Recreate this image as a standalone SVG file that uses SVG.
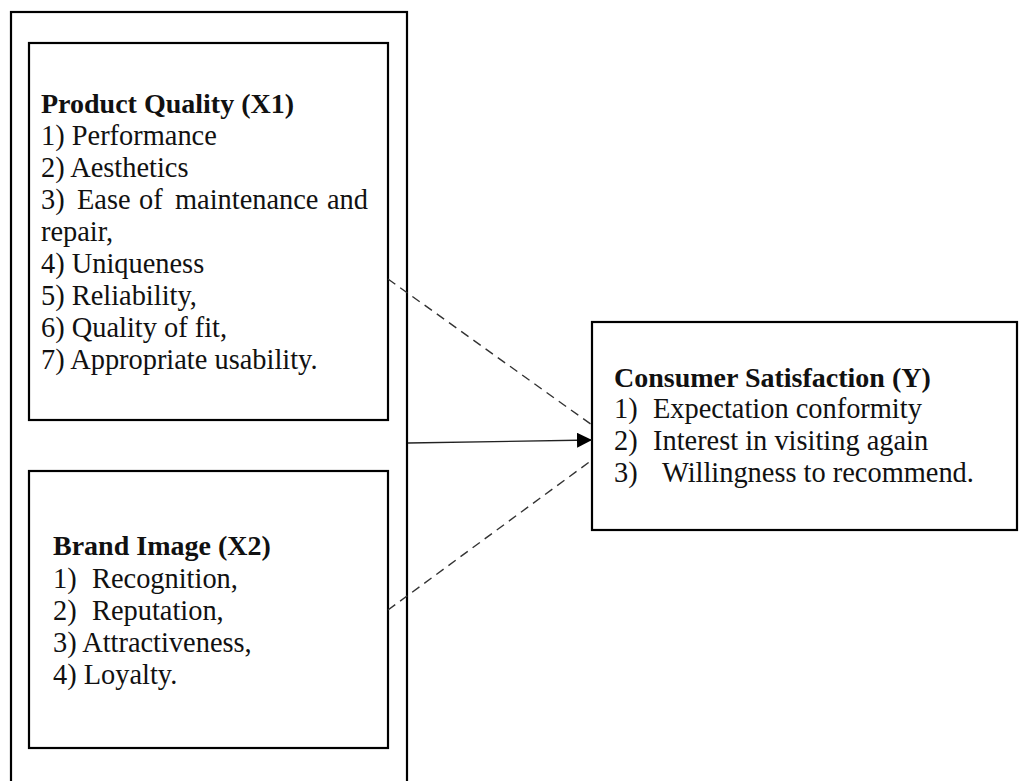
<svg xmlns="http://www.w3.org/2000/svg" width="1019" height="781" viewBox="0 0 1019 781">
<style>
.box{fill:none;stroke:#000;stroke-width:2.2}
.t{font-family:"Liberation Serif","Times New Roman",serif;font-size:28.4px;fill:#111}
.b{font-weight:bold;font-size:28px}
.dash{fill:none;stroke:#333;stroke-width:1.4;stroke-dasharray:9,6}
.solid{fill:none;stroke:#222;stroke-width:1.4}
</style>
<defs>
<marker id="ah" markerUnits="userSpaceOnUse" markerWidth="16" markerHeight="16" refX="15" refY="7.5" orient="auto">
<path d="M0,0 L15,7.5 L0,15 Z" fill="#000"/>
</marker>
</defs>
<rect width="1019" height="781" fill="#fff"/>
<g id="outer"><rect class="box" x="11" y="12" width="396" height="800"/></g>
<g id="product-quality">
<rect class="box" x="29" y="43" width="359" height="377"/>
<text class="t b" x="41" y="113">Product Quality (X1)</text>
<text class="t" x="41" y="145">1) Performance</text>
<text class="t" x="41" y="177">2) Aesthetics</text>
<text class="t" y="209"><tspan x="41">3)</tspan><tspan x="77">Ease</tspan><tspan x="139">of</tspan><tspan x="175">maintenance</tspan><tspan x="327">and</tspan></text>
<text class="t" x="41" y="241">repair,</text>
<text class="t" x="41" y="273">4) Uniqueness</text>
<text class="t" x="41" y="305">5) Reliability,</text>
<text class="t" x="41" y="337">6) Quality of fit,</text>
<text class="t" x="41" y="369">7) Appropriate usability.</text>
</g>
<g id="brand-image">
<rect class="box" x="29" y="471" width="359" height="277"/>
<text class="t b" x="53" y="555">Brand Image (X2)</text>
<text class="t" y="588"><tspan x="53">1)</tspan><tspan x="92">Recognition,</tspan></text>
<text class="t" y="620"><tspan x="53">2)</tspan><tspan x="92">Reputation,</tspan></text>
<text class="t" x="53" y="652">3) Attractiveness,</text>
<text class="t" x="53" y="684">4) Loyalty.</text>
</g>
<g id="consumer-satisfaction">
<rect class="box" x="592" y="322" width="425" height="208"/>
<text class="t b" x="614" y="387">Consumer Satisfaction (Y)</text>
<text class="t" y="418"><tspan x="614">1)</tspan><tspan x="653">Expectation conformity</tspan></text>
<text class="t" y="450"><tspan x="614">2)</tspan><tspan x="653">Interest in visiting again</tspan></text>
<text class="t" y="482"><tspan x="614">3)</tspan><tspan x="662">Willingness to recommend.</tspan></text>
</g>
<g id="connectors">
<line class="dash" x1="388" y1="279" x2="592" y2="425"/>
<line class="dash" x1="388" y1="610" x2="592" y2="460"/>
<line class="solid" x1="408" y1="443" x2="592" y2="440" marker-end="url(#ah)"/>
</g>
</svg>
